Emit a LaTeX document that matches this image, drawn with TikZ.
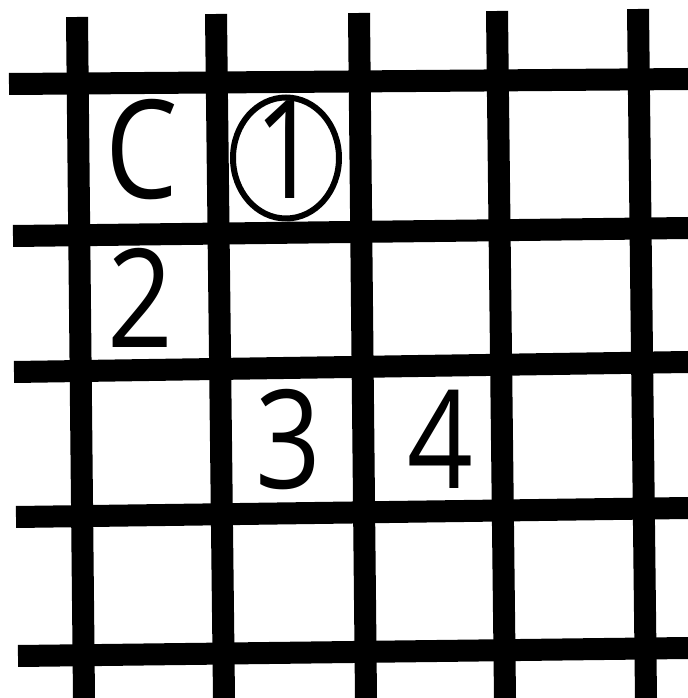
\documentclass[tikz,border=0pt]{standalone}
\usepackage{fontspec}
\setmainfont{Liberation Sans}
\newfontfamily\cellfamily[FakeStretch=0.84]{Open Sans}
\usetikzlibrary{shapes.geometric}
\newcommand{\cellfont}{\cellfamily\fontsize{39}{39}\selectfont}

\begin{document}
\begin{tikzpicture}[scale=1.0]
    \tikzset{gridline/.style={line width=0.22cm, black},
             cell/.style={font=\cellfont, inner sep=0pt}}
    \useasboundingbox (0,0) rectangle (6.88,6.98);
    % horizontal bars
    \draw[gridline] (0.09,6.14) -- (6.88,6.19);
    \draw[gridline] (0.13,4.62) -- (6.88,4.70);
    \draw[gridline] (0.14,3.26) -- (6.88,3.36);
    \draw[gridline] (0.16,1.81) -- (6.88,1.90);
    \draw[gridline] (0.18,0.42) -- (6.88,0.50);
    % vertical bars
    \draw[gridline] (0.77,6.81) -- (0.84,0);
    \draw[gridline] (2.16,6.84) -- (2.24,0);
    \draw[gridline] (3.59,6.85) -- (3.66,0);
    \draw[gridline] (4.97,6.87) -- (5.05,0);
    \draw[gridline] (6.38,6.89) -- (6.46,0);
    % cell entries
    \node[cell] (c) at (1.42,5.48) {C};
    \node[draw, ellipse, line width=0.06cm, minimum width=1.06cm,
          minimum height=1.21cm, inner sep=0pt] (ring) at (2.86,5.40) {};
    \node[cell] (one) at (2.87,5.48) {1};
    \node[cell] (two) at (1.40,4.00) {2};
    \node[cell] (three) at (2.88,2.58) {3};
    \node[cell] (four) at (4.40,2.59) {4};
  \end{tikzpicture}
\end{document}
